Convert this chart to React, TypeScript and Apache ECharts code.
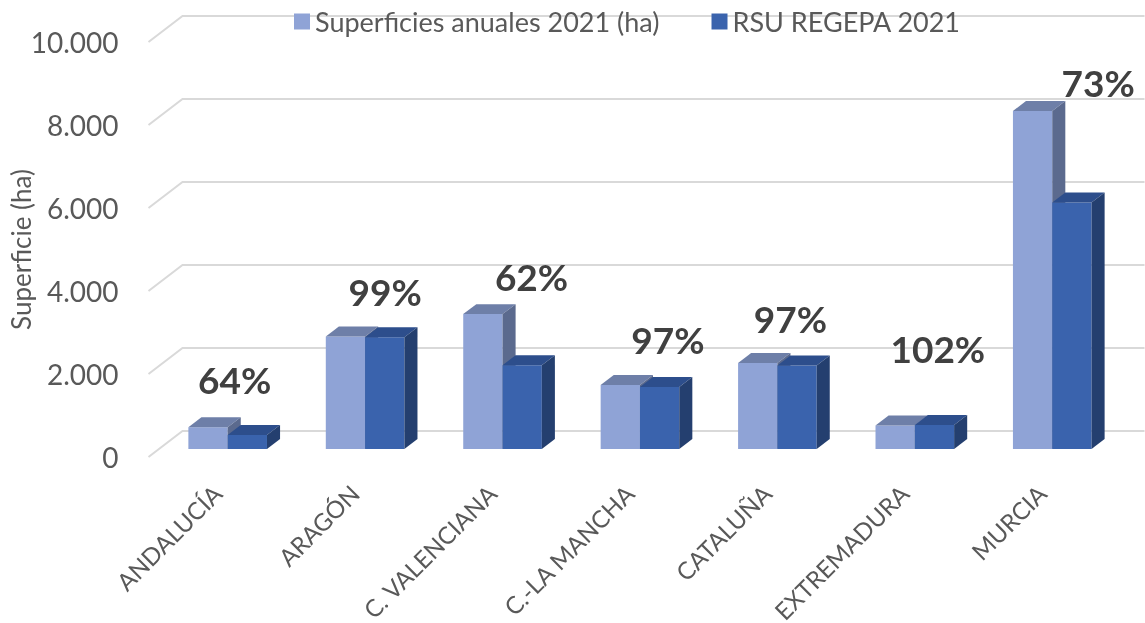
import React, { useEffect, useRef } from "react";
import * as echarts from "echarts";

const categories = ["ANDALUCÍA", "ARAGÓN", "C. VALENCIANA", "C.-LA MANCHA", "CATALUÑA", "EXTREMADURA", "MURCIA"];
const superficiesAnuales = [525, 2710, 3250, 1540, 2070, 565, 8145];
const rsuRegepa = [335, 2690, 2020, 1495, 2010, 577, 5940];
const yTicks = [0, 2000, 4000, 6000, 8000, 10000];
const seriesNames = ["Superficies anuales 2021 (ha)", "RSU REGEPA 2021"];

// 3D projection (styling)
const DX = 34;
const DY = 26;
const F_FRONT = 0.3077;
const F_BACK = 0.692;
const BAR_FRAC = 0.286;
const FONT = "Lato, 'Open Sans', sans-serif";
// pixel nudges of the percentage labels (styling)
const LABEL_NUDGE: [number, number][] = [[7, -48], [20, -45], [29, -38], [28, -46], [13, -45], [23, -77], [46, -28]];

const LIGHT = { front: "#8FA3D6", top: "#6E7FA8", side: "#5B6A8E" };
const DARK = { front: "#3A63AD", top: "#2D4E8C", side: "#243F6F" };

function fmt(v: number) {
  return String(v).replace(/\B(?=(\d{3})+(?!\d))/g, ".");
}

function barRender(side: number, c: { front: string; top: string; side: string }) {
  return (params: any, api: any) => {
    const idx = api.value(0);
    const v = api.value(1);
    const top = api.coord([idx, v]);
    const base = api.coord([idx, 0]);
    const band = api.size([1, 0])[0];
    const w = band * BAR_FRAC;
    const fx = DX * F_FRONT;
    const fy = DY * F_FRONT;
    const ddx = DX * (F_BACK - F_FRONT);
    const ddy = DY * (F_BACK - F_FRONT);
    const x0 = base[0] + (side === 0 ? -w : 0) + fx;
    const x1 = x0 + w;
    const yT = top[1] - fy;
    const yB = base[1] - fy;
    return {
      type: "group",
      children: [
        { type: "polygon", shape: { points: [[x0, yB], [x1, yB], [x1, yT], [x0, yT]] }, style: { fill: c.front } },
        { type: "polygon", shape: { points: [[x0, yT], [x1, yT], [x1 + ddx, yT - ddy], [x0 + ddx, yT - ddy]] }, style: { fill: c.top } },
        { type: "polygon", shape: { points: [[x1, yB], [x1 + ddx, yB - ddy], [x1 + ddx, yT - ddy], [x1, yT]] }, style: { fill: c.side } },
      ],
    };
  };
}

export default function App() {
  const ref = useRef<HTMLDivElement>(null);
  useEffect(() => {
    if (!ref.current) return;
    const chart = echarts.init(ref.current, null, { renderer: "svg" });
    const pctData = categories.map((_, i) => [
      i,
      Math.max(superficiesAnuales[i], rsuRegepa[i]),
      Math.round((rsuRegepa[i] / superficiesAnuales[i]) * 100),
    ]);
    chart.setOption({
      animation: false,
      textStyle: { fontFamily: FONT },
      legend: {
        data: seriesNames,
        left: 289,
        top: 3,
        itemWidth: 16,
        itemHeight: 16,
        itemGap: 52,
        icon: "rect",
        textStyle: { fontSize: 27, color: "#595959", fontFamily: FONT },
      },
      grid: { left: 148.5, top: 42, width: 962, height: 415, containLabel: false, outerBoundsMode: "none" },
      xAxis: {
        type: "category",
        data: categories,
        axisLine: { show: false },
        axisTick: { show: false },
        axisLabel: { rotate: 45, fontSize: 24, color: "#595959", margin: 32, fontFamily: FONT, interval: 0 },
      },
      yAxis: {
        type: "value",
        min: 0,
        max: 10000,
        interval: 2000,
        axisLine: { show: false },
        axisTick: { show: false },
        splitLine: { show: false },
        axisLabel: { fontSize: 28, color: "#595959", margin: 30, formatter: (v: number) => fmt(v), fontFamily: FONT },
        name: "Superficie (ha)",
        nameLocation: "middle",
        nameGap: 115,
        nameMoveOverlap: false,
        nameTextStyle: { fontSize: 26, color: "#595959", fontFamily: FONT },
      },
      series: [
        {
          type: "custom",
          name: "grid",
          z: 0,
          silent: true,
          encode: { x: 0, y: 1 },
          data: yTicks.map((t) => [0, t]),
          renderItem: (params: any, api: any) => {
            const cs = params.coordSys;
            const y = api.coord([0, api.value(1)])[1];
            return {
              type: "polyline",
              shape: { points: [[cs.x, y], [cs.x + DX, y - DY], [cs.x + cs.width + DX, y - DY]] },
              style: { stroke: "#D9D9D9", lineWidth: 2, fill: "none" },
            };
          },
        },
        {
          type: "custom",
          name: seriesNames[0],
          z: 2,
          itemStyle: { color: LIGHT.front },
          encode: { x: 0, y: 1 },
          data: superficiesAnuales.map((v, i) => [i, v]),
          renderItem: barRender(0, LIGHT),
        },
        {
          type: "custom",
          name: seriesNames[1],
          z: 3,
          itemStyle: { color: DARK.front },
          encode: { x: 0, y: 1 },
          data: rsuRegepa.map((v, i) => [i, v]),
          renderItem: barRender(1, DARK),
        },
        {
          type: "custom",
          name: "pct",
          z: 4,
          silent: true,
          encode: { x: 0, y: 1 },
          data: pctData,
          renderItem: (params: any, api: any) => {
            const idx = api.value(0);
            const p = api.coord([idx, api.value(1)]);
            const n = LABEL_NUDGE[idx];
            return {
              type: "text",
              x: p[0] + DX * F_FRONT + n[0],
              y: p[1] - DY * F_FRONT + n[1],
              style: {
                text: api.value(2) + "%",
                fill: "#404040",
                font: "bold 37px " + FONT,
                textAlign: "center",
                textVerticalAlign: "middle",
              },
            };
          },
        },
      ],
    });
    return () => chart.dispose();
  }, []);
  return <div ref={ref} style={{ position: "fixed", left: 0, top: 0, width: 1145, height: 623 }} />;
}
